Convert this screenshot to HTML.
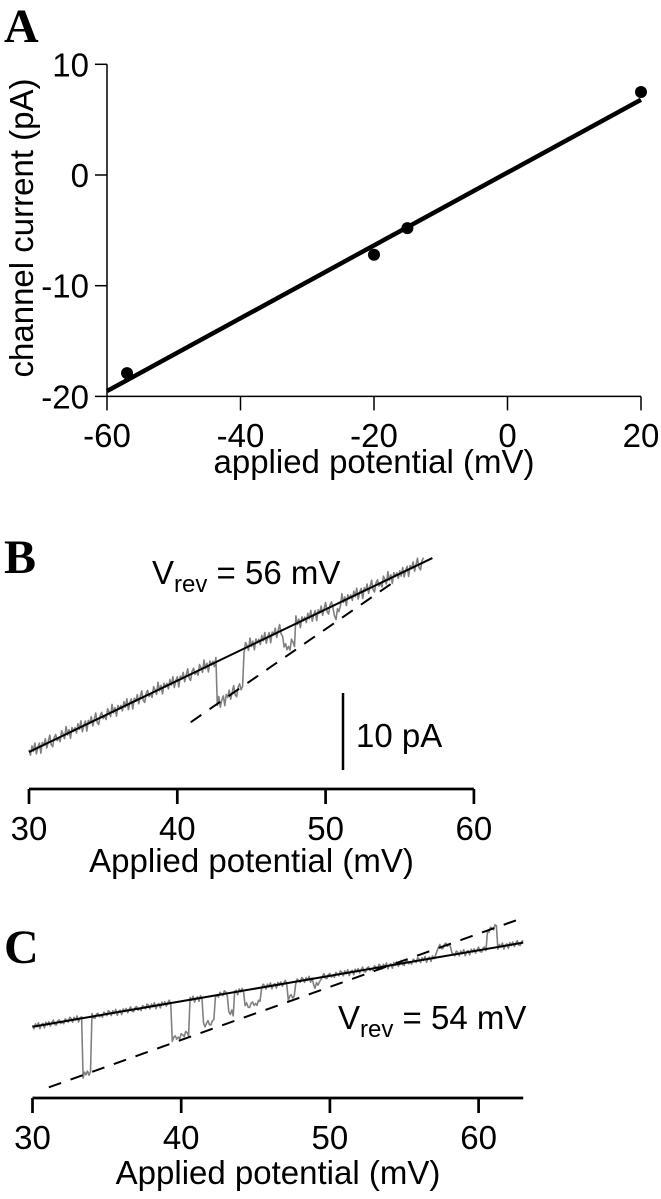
<!DOCTYPE html>
<html><head><meta charset="utf-8"><style>
html,body{margin:0;padding:0;background:#fff;}
svg{display:block;font-family:"Liberation Sans",Arial,sans-serif;}
</style></head><body>
<svg id="fig" width="661" height="1199" viewBox="0 0 661 1199" xmlns="http://www.w3.org/2000/svg">
<text x="4" y="42" font-family="Liberation Serif, serif" font-weight="bold" font-size="48">A</text>
<text x="4" y="573" font-family="Liberation Serif, serif" font-weight="bold" font-size="48">B</text>
<text x="4" y="963" font-family="Liberation Serif, serif" font-weight="bold" font-size="48">C</text>
<g id="gA"></g>
<g id="gB"></g>
<g id="gC"></g>
</svg>
<script>
// ---- Panel A data ----
const aXTicks = [-60, -40, -20, 0, 20];
const aYTicks = [10, 0, -10, -20];
const aPointV = [-57, -20, -15, 20];
const aPointI = [-17.9, -7.2, -4.8, 7.5];
const aFitSlope = 0.329;
const aFitIntercept = 0.22;
const aFitRange = [-60, 20];
// ---- Panel B data ----
const bXTicks = [30, 40, 50, 60];
const bVrev = 56;
const bSolidG = 0.926;
const bDashG = 1.33;
const bDashVrev = 56.1;
const bSolidRange = [30, 57.2];
const bDashRange = [40.9, 54.6];
const bTraceRange = [30, 56.6];
const bEventStart = [42.7, 47.2, 50.6, 55.0];
const bEventEnd = [44.5, 48.0, 51.0, 55.3];
const bEventLevel = [1, 0.7, 0.6, 0.4];
const bNoise = [0.3,-0.5,0.6,-0.2,0.8,-0.7,0.1,0.5,-0.9,0.4,-0.1,0.7,-0.6,0.2,0.9,-0.4,-0.8,0.3,0.6,-0.3,0.0,-0.6,0.7,0.2,-0.5,1.0,-0.2,0.4,-0.8,0.5,-0.1];
// ---- Panel C data ----
const cXTicks = [30, 40, 50, 60];
const cVrev = 54;
const cSolidG = 0.331;
const cDashG = 0.69;
const cSolidRange = [30, 63];
const cDashRange = [31.1, 62.7];
const cTraceRange = [30, 63];
const cEventStart = [33.4, 39.4, 41.5, 43.2, 44.3, 47.2, 48.9, 57.2, 60.6];
const cEventEnd = [34.0, 40.6, 42.3, 43.6, 45.4, 47.7, 49.4, 58.2, 61.3];
const cEventLevel = [1, 0.9, 0.8, 0.7, 0.6, 0.8, 0.5, 1, 1];
const cNoise = [0.2,-0.3,0.3,-0.1,0.4,-0.4,0.1,0.2,-0.4,0.3,-0.1,0.3,-0.3,0.1,0.4,-0.2,-0.3,0.2,0.3,-0.2,0.0,-0.3,0.3,0.1,-0.2,0.4];

const NS = "http://www.w3.org/2000/svg";
function mk(parent, tag, attrs, txt){
  const e = document.createElementNS(NS, tag);
  for (const k in attrs) e.setAttribute(k, attrs[k]);
  if (txt !== undefined) e.textContent = txt;
  parent.appendChild(e);
  return e;
}
// axes functions
const xA = v => 107 + (v + 60) * 6.675;
const yA = i => 175 - i * 11.07;
const xB = v => 29 + (v - 30) * 14.83;
const yB = i => 566.6 - i * 7.7;
const xC = v => 32.5 + (v - 30) * 14.87;
const yC = i => 965.6 - i * 7.7;

// ---- Panel A ----
const gA = document.getElementById('gA');
let el;
el = mk(gA, 'line', {x1: xA(-60), y1: yA(10), x2: xA(-60), y2: yA(-20), stroke: '#000', 'stroke-width': 1.5});


el = mk(gA, 'line', {x1: xA(-60), y1: yA(-20), x2: xA(20), y2: yA(-20), stroke: '#000', 'stroke-width': 1.5});


aXTicks.forEach(t => {
  el = mk(gA, 'line', {x1: xA(t), y1: yA(-20), x2: xA(t), y2: yA(-20) + 14, stroke: '#000', 'stroke-width': 1.5});
  
  
  el = mk(gA, 'text', {x: xA(t), y: 447, 'font-size': 33, 'text-anchor': 'middle'}, String(t));
  
  
});
aYTicks.forEach(t => {
  el = mk(gA, 'line', {x1: xA(-60) - 12, y1: yA(t), x2: xA(-60), y2: yA(t), stroke: '#000', 'stroke-width': 1.5});
  
  
  el = mk(gA, 'text', {x: 89, y: yA(t) + 12, 'font-size': 33, 'text-anchor': 'end'}, String(t));
  
  
});
el = mk(gA, 'text', {x: 374, y: 473, 'font-size': 33, 'text-anchor': 'middle'}, 'applied potential (mV)');


el = mk(gA, 'text', {x: 0, y: 0, 'font-size': 33, 'text-anchor': 'middle', transform: 'translate(33,228) rotate(-90)'}, 'channel current (pA)');


el = mk(gA, 'line', {x1: xA(aFitRange[0]), y1: yA(aFitSlope * aFitRange[0] + aFitIntercept), x2: xA(aFitRange[1]), y2: yA(aFitSlope * aFitRange[1] + aFitIntercept), stroke: '#000', 'stroke-width': 4.5});


aPointV.forEach((v, k) => {
  el = mk(gA, 'circle', {cx: xA(v), cy: yA(aPointI[k]), r: 6, fill: '#000'});
  
  
});

// ---- shared trace panel builder ----
function panel(g, pre, xf, yf, ticks, axisY, axisEnd, vrev, sg, dg, dvrev, sRange, dRange, tRange, evS, evE, evL, noise, labelY, titleY, titleX){
  const solid = v => sg * (v - vrev);
  const dash = v => dg * (v - dvrev);
  el = mk(g, 'line', {x1: xf(ticks[0]), y1: axisY, x2: xf(axisEnd), y2: axisY, stroke: '#000', 'stroke-width': 2.7});
  
  
  ticks.forEach(t => {
    el = mk(g, 'line', {x1: xf(t), y1: axisY, x2: xf(t), y2: axisY + 15, stroke: '#000', 'stroke-width': 2.7});
    
    
    el = mk(g, 'text', {x: xf(t), y: labelY, 'font-size': 33, 'text-anchor': 'middle'}, String(t));
    
    
  });
  el = mk(g, 'text', {x: titleX, y: titleY, 'font-size': 33, 'text-anchor': 'middle'}, 'Applied potential (mV)');
  
  
  // trace
  let pts = [];
  let n = 0;
  for (let v = tRange[0]; v <= tRange[1] + 1e-9; v += 0.1) {
    let lvl = 0;
    for (let k = 0; k < evS.length; k++) if (v >= evS[k] && v <= evE[k]) lvl = evL[k];
    const i = solid(v) + lvl * (dash(v) - solid(v)) + noise[n % noise.length];
    pts.push(xf(v).toFixed(1) + ',' + yf(i).toFixed(1));
    n++;
  }
  el = mk(g, 'polyline', {points: pts.join(' '), fill: 'none', stroke: '#808080', 'stroke-width': 1.6, 'stroke-linejoin': 'round'});
  
  
  el = mk(g, 'line', {x1: xf(sRange[0]), y1: yf(solid(sRange[0])), x2: xf(sRange[1]), y2: yf(solid(sRange[1])), stroke: '#000', 'stroke-width': 2});
  
  
  el = mk(g, 'line', {x1: xf(dRange[0]), y1: yf(dash(dRange[0])), x2: xf(dRange[1]), y2: yf(dash(dRange[1])), stroke: '#000', 'stroke-width': 2, 'stroke-dasharray': '13 10'});
  
  
}

const gB = document.getElementById('gB');
panel(gB, 'b', xB, yB, bXTicks, 789, 60, bVrev, bSolidG, bDashG, bDashVrev, bSolidRange, bDashRange, bTraceRange, bEventStart, bEventEnd, bEventLevel, bNoise, 840, 872, 251.5);
el = mk(gB, 'line', {x1: 343, y1: yB(0) + 126.4, x2: 343, y2: yB(0) + 126.4 + 10 * 7.7, stroke: '#000', 'stroke-width': 2.5});


el = mk(gB, 'text', {x: 356, y: 747, 'font-size': 33}, '10 pA');


el = mk(gB, 'text', {x: 152, y: 584, 'font-size': 33}, '');


mk(el, 'tspan', {}, 'V');
mk(el, 'tspan', {'font-size': 24, dy: 8}, 'rev');
mk(el, 'tspan', {dy: -8}, ' = ' + bVrev + ' mV');

const gC = document.getElementById('gC');
panel(gC, 'c', xC, yC, cXTicks, 1098, 63, cVrev, cSolidG, cDashG, cVrev, cSolidRange, cDashRange, cTraceRange, cEventStart, cEventEnd, cEventLevel, cNoise, 1149, 1184, 278);
el = mk(gC, 'text', {x: 338, y: 1029, 'font-size': 33}, '');


mk(el, 'tspan', {}, 'V');
mk(el, 'tspan', {'font-size': 24, dy: 8}, 'rev');
mk(el, 'tspan', {dy: -8}, ' = ' + cVrev + ' mV');
</script>
</body></html>
